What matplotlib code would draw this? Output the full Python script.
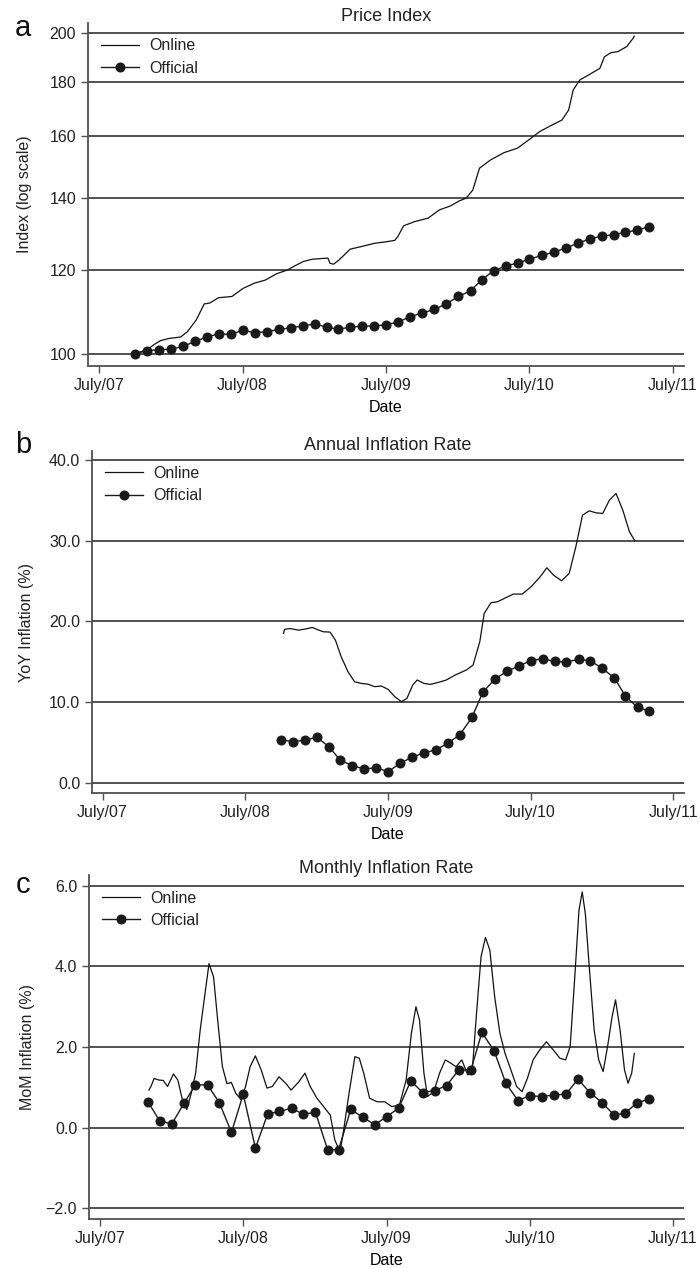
import numpy as np
import pandas as pd
import matplotlib
matplotlib.use("Agg")
import matplotlib.pyplot as plt
from matplotlib.ticker import FixedLocator, NullLocator

plt.rcParams['font.family'] = ['Liberation Sans', 'DejaVu Sans']

# ---------------- data ----------------
# x positions of online series: months since 1 July 2007
online_a_months = [3.00, 4.06, 4.62, 5.18, 5.92, 6.86, 7.42, 8.16, 8.83, 9.28,
                   10.02, 11.14, 12.07, 13.01, 13.94, 14.87, 15.80, 16.36, 17.11, 17.85,
                   19.16, 19.34, 19.64, 20.09, 21.02, 21.95, 23.07, 24.19, 24.75, 25.01,
                   25.49, 26.42, 27.54, 28.47, 29.41, 30.15, 30.71, 31.27, 31.83, 32.76,
                   33.88, 35.00, 35.74, 36.86, 37.61, 38.72, 39.28, 39.66, 40.21, 40.96,
                   41.89, 42.27, 42.82, 43.38, 44.13, 44.69, 44.76]
online_a_index = [100.0, 100.9, 102.0, 102.9, 103.4, 103.7, 104.9, 107.6, 111.4, 111.6,
                  112.9, 113.2, 115.2, 116.5, 117.3, 118.9, 119.9, 120.9, 122.1, 122.7,
                  123.0, 121.6, 121.4, 122.5, 125.4, 126.1, 127.0, 127.5, 127.8, 128.9,
                  131.9, 133.1, 134.1, 136.5, 137.7, 139.2, 140.0, 142.5, 149.4, 152.1,
                  154.5, 156.0, 158.2, 161.7, 163.4, 165.8, 169.4, 176.9, 180.8, 182.8,
                  185.4, 190.1, 191.8, 192.2, 194.3, 198.0, 198.8]
official_a_start = '2007-10-01'
official_a_index = [100.0, 100.7, 100.9, 101.0, 101.6, 102.7, 103.7, 104.4, 104.3, 105.2,
                    104.7, 104.9, 105.4, 105.8, 106.2, 106.7, 105.9, 105.5, 105.9, 106.2,
                    106.2, 106.5, 107.1, 108.4, 109.2, 110.1, 111.4, 113.2, 114.6, 117.3,
                    119.7, 120.9, 121.7, 122.7, 123.7, 124.6, 125.7, 127.0, 128.2, 129.0,
                    129.4, 130.0, 130.7, 131.6]

online_b_months = [15.23, 15.31, 15.76, 16.51, 17.26, 17.64, 18.20, 18.58, 19.14, 19.59,
                   20.08, 20.65, 21.21, 21.77, 22.34, 22.90, 23.47, 24.03, 24.59, 25.16,
                   25.61, 26.10, 26.47, 27.04, 27.60, 28.35, 28.92, 29.67, 30.61, 31.17,
                   31.74, 32.11, 32.68, 33.24, 33.80, 34.56, 35.31, 36.06, 36.81, 37.38,
                   37.94, 38.62, 39.26, 39.82, 40.38, 40.95, 41.51, 42.08, 42.64, 43.20,
                   43.77, 44.33, 44.78]
online_b_yoy = [18.5, 19.0, 19.1, 18.9, 19.1, 19.24, 18.9, 18.7, 18.66, 17.67,
                15.6, 13.75, 12.5, 12.3, 12.2, 11.9, 11.97, 11.56, 10.65, 10.03,
                10.45, 12.1, 12.72, 12.3, 12.18, 12.47, 12.72, 13.34, 13.96, 14.57,
                17.47, 20.97, 22.3, 22.42, 22.83, 23.37, 23.37, 24.28, 25.5, 26.63,
                25.72, 25.02, 25.93, 29.23, 33.15, 33.69, 33.44, 33.36, 35.0, 35.84,
                33.77, 31.09, 29.98]
official_b_start = '2008-10-01'
official_b_yoy = [5.28, 5.08, 5.28, 5.62, 4.38, 2.77, 2.11, 1.69, 1.86, 1.36,
                  2.39, 3.18, 3.67, 4.09, 4.87, 5.95, 8.09, 11.23, 12.84, 13.79,
                  14.45, 15.11, 15.36, 15.03, 14.95, 15.28, 15.11, 14.16, 12.96, 10.73,
                  9.33, 8.88]

online_c_months = [4.13, 4.31, 4.57, 4.95, 5.32, 5.69, 6.18, 6.55, 6.93, 7.30,
                   7.67, 8.04, 8.42, 8.79, 9.16, 9.54, 9.91, 10.28, 10.66, 11.03,
                   11.40, 11.85, 12.22, 12.60, 13.04, 13.53, 14.01, 14.46, 15.02, 15.58,
                   16.03, 16.63, 17.19, 17.63, 18.19, 18.75, 19.31, 19.69, 20.13, 20.43,
                   20.88, 21.37, 21.74, 22.11, 22.60, 23.23, 23.87, 24.46, 25.10, 25.66,
                   26.10, 26.48, 26.78, 27.15, 27.45, 27.97, 28.46, 28.94, 29.39, 29.84,
                   30.32, 30.81, 31.18, 31.55, 31.93, 32.30, 32.67, 33.07, 33.51, 33.94,
                   34.43, 34.91, 35.36, 35.81, 36.29, 36.85, 37.40, 37.97, 38.53, 39.01,
                   39.39, 39.76, 40.13, 40.40, 40.66, 41.03, 41.40, 41.78, 42.15, 42.52,
                   42.90, 43.19, 43.57, 43.94, 44.24, 44.54, 44.76]
online_c_mom = [0.93, 1.03, 1.22, 1.18, 1.17, 1.02, 1.33, 1.18, 0.69, 0.45,
                0.85, 1.35, 2.42, 3.25, 4.07, 3.74, 2.59, 1.51, 1.09, 1.12,
                0.85, 0.69, 1.02, 1.51, 1.78, 1.43, 0.98, 1.02, 1.26, 1.10,
                0.93, 1.12, 1.35, 1.02, 0.73, 0.52, 0.31, -0.31, -0.60, -0.06,
                0.85, 1.76, 1.72, 1.35, 0.73, 0.64, 0.64, 0.52, 0.56, 1.18,
                2.34, 3.00, 2.67, 1.35, 0.77, 0.89, 1.35, 1.68, 1.60, 1.51,
                1.68, 1.31, 1.35, 2.83, 4.24, 4.72, 4.40, 3.25, 2.34, 1.84,
                1.43, 1.02, 0.89, 1.22, 1.68, 1.93, 2.13, 1.93, 1.72, 1.68,
                2.01, 3.66, 5.40, 5.85, 5.31, 3.83, 2.42, 1.68, 1.39, 2.01,
                2.75, 3.17, 2.42, 1.43, 1.10, 1.35, 1.84]
official_c_start = '2007-11-01'
official_c_mom = [0.645, 0.165, 0.09, 0.60, 1.06, 1.06, 0.62, -0.12, 0.83, -0.51,
                  0.33, 0.40, 0.48, 0.33, 0.38, -0.55, -0.55, 0.45, 0.26, 0.07,
                  0.27, 0.48, 1.16, 0.87, 0.92, 1.04, 1.43, 1.43, 2.36, 1.91,
                  1.10, 0.67, 0.79, 0.77, 0.81, 0.83, 1.20, 0.87, 0.62, 0.31,
                  0.36, 0.62, 0.70]

xtick_dates = ['2007-07-01', '2008-07-01', '2009-07-01', '2010-07-01', '2011-07-01']
xtick_labels = ['July/07', 'July/08', 'July/09', 'July/10', 'July/11']

titles = ['Price Index', 'Annual Inflation Rate', 'Monthly Inflation Rate']
ylabels = ['Index (log scale)', 'YoY Inflation (%)', 'MoM Inflation (%)']
panel_letters = ['a', 'b', 'c']
yticks_a = [100, 120, 140, 160, 180, 200]
yticks_b = [0, 10, 20, 30, 40]
yticks_c = [-2, 0, 2, 4, 6]

# ---------------- helpers ----------------
BASE = pd.Timestamp('2007-07-01')


def months_to_dates(m):
    return BASE + pd.to_timedelta(np.asarray(m) * 30.4375, unit='D')


def monthly(start, n):
    return pd.date_range(start, periods=n, freq='MS')


GRAY = '#505050'
W, H = 700, 1268
fig = plt.figure(figsize=(W / 100, H / 100), dpi=100)


def add_axes(left, right, top, bottom):
    return fig.add_axes([left / W, 1 - bottom / H, (right - left) / W, (bottom - top) / H])


ax_a = add_axes(88, 684, 23, 366)
ax_b = add_axes(92, 684, 451, 793)
ax_c = add_axes(89, 684, 875, 1219)
axes = [ax_a, ax_b, ax_c]

xlim = (pd.Timestamp('2007-06-04'), pd.Timestamp('2011-07-29'))

line_kw = dict(color='#111111', lw=0.9)
off_kw = dict(color='#1a1a1a', lw=1.0, marker='o', markersize=6.2,
              markerfacecolor='#1a1a1a', markeredgecolor='#1a1a1a')

ax_a.plot(months_to_dates(online_a_months), online_a_index, label='Online', **line_kw)
ax_a.plot(monthly(official_a_start, len(official_a_index)), official_a_index,
          label='Official', **off_kw)
ax_b.plot(months_to_dates(online_b_months), online_b_yoy, label='Online', **line_kw)
ax_b.plot(monthly(official_b_start, len(official_b_yoy)), official_b_yoy,
          label='Official', **off_kw)
ax_c.plot(months_to_dates(online_c_months), online_c_mom, label='Online', **line_kw)
ax_c.plot(monthly(official_c_start, len(official_c_mom)), official_c_mom,
          label='Official', **off_kw)

ax_a.set_yscale('log')
ax_a.set_ylim(97.4, 204.5)
ax_a.yaxis.set_major_locator(FixedLocator(yticks_a))
ax_a.yaxis.set_minor_locator(NullLocator())
ax_a.set_yticklabels([str(v) for v in yticks_a])

ax_b.set_ylim(-1.28, 41.1)
ax_b.set_yticks(yticks_b)
ax_b.set_yticklabels([f'{v:.1f}' for v in yticks_b])

ax_c.set_ylim(-2.27, 6.27)
ax_c.set_yticks(yticks_c)
ax_c.set_yticklabels([f'{v:.1f}'.replace('-', '\u2212') for v in yticks_c])

legend_pos = [(0.022, 0.955), (0.022, 0.956), (0.022, 0.954)]
label_x = [24.5, 26.8, 27.7]
letter_y = [28, 445, 885]

for i, ax in enumerate(axes):
    ax.set_xlim(*xlim)
    ax.set_xticks(pd.to_datetime(xtick_dates))
    ax.set_xticklabels(xtick_labels)
    ax.set_xlabel('Date', fontsize=11.5, labelpad=5)
    for s in ['top', 'right']:
        ax.spines[s].set_visible(False)
    for s in ['left', 'bottom']:
        ax.spines[s].set_color(GRAY)
        ax.spines[s].set_linewidth(1.3)
    ax.tick_params(axis='both', which='major', direction='out', length=5,
                   width=1.0, color=GRAY, labelsize=11.5, labelcolor='#222222', pad=3.5)
    ax.yaxis.grid(True, color=GRAY, lw=1.4)
    ax.xaxis.grid(False)
    ax.set_axisbelow(True)
    ax.text(0.5, 1.0 + 1.5 / 342, titles[i], transform=ax.transAxes, ha='center',
            va='baseline', fontsize=13, color='#222222')
    pos = ax.get_position()
    fig.text(label_x[i] / W, pos.y0 + pos.height / 2, ylabels[i], rotation=90,
             ha='center', va='center', fontsize=11.5, color='#222222')
    fig.text(23 / W, 1 - letter_y[i] / H, panel_letters[i], ha='center', va='center',
             fontsize=21, color='#111111')
    leg = ax.legend(loc='upper left', bbox_to_anchor=legend_pos[i], frameon=False,
                    fontsize=11.5, handlelength=2.4, handletextpad=0.6,
                    labelspacing=0.45, borderaxespad=0, borderpad=0)
    for t in leg.get_texts():
        t.set_color('#222222')

fig.savefig('out.png', dpi=100)
